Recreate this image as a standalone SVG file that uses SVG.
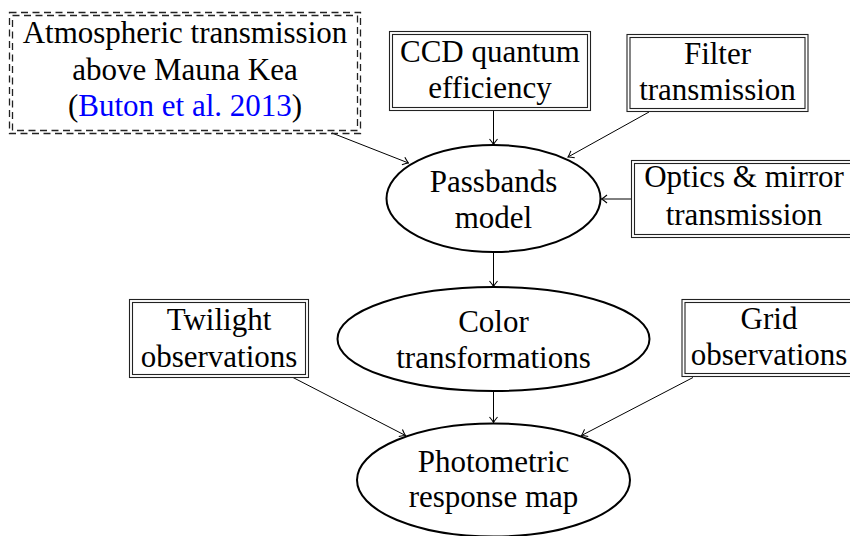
<svg xmlns="http://www.w3.org/2000/svg" width="850" height="536" viewBox="0 0 850 536">
<defs>
<style>
text{font-family:'Liberation Serif','Times New Roman',serif;font-size:31px;fill:#000;text-anchor:middle}
.cite{fill:#0000ff}
.box{fill:none;stroke:#222;stroke-width:1.1}
.dash{fill:none;stroke:#222;stroke-width:1.3;stroke-dasharray:7 4.5}
.ell{fill:#fff;stroke:#000;stroke-width:2}
.edge{fill:none;stroke:#000;stroke-width:1}
</style>
<marker id="arr" viewBox="-7 -5 8 10" refX="0" refY="0" markerWidth="8" markerHeight="10" markerUnits="userSpaceOnUse" orient="auto">
<path d="M -5.5,-4 Q -2,-1 0,0 Q -2,1 -5.5,4" fill="none" stroke="#000" stroke-width="1.1"/>
</marker>
</defs>
<rect width="850" height="536" fill="#fff"/>
<g id="connectors">
<line class="edge" x1="332" y1="133" x2="408.5" y2="163" marker-end="url(#arr)"/>
<line class="edge" x1="493.5" y1="111" x2="493.5" y2="144.5" marker-end="url(#arr)"/>
<line class="edge" x1="649" y1="112" x2="568" y2="157" marker-end="url(#arr)"/>
<line class="edge" x1="631" y1="199" x2="601.5" y2="199" marker-end="url(#arr)"/>
<line class="edge" x1="493.5" y1="252" x2="493.5" y2="286.5" marker-end="url(#arr)"/>
<line class="edge" x1="293" y1="377.5" x2="405.5" y2="435.5" marker-end="url(#arr)"/>
<line class="edge" x1="493.5" y1="391" x2="493.5" y2="422.5" marker-end="url(#arr)"/>
<line class="edge" x1="693" y1="377.5" x2="581.5" y2="435.5" marker-end="url(#arr)"/>
</g>
<g id="atmosphere">
<rect class="dash" x="9.5" y="12.5" width="351" height="121"/>
<rect class="dash" x="12.5" y="15.5" width="345" height="115"/>
<text x="185" y="43">Atmospheric transmission</text>
<text x="185" y="80">above Mauna Kea</text>
<text x="185" y="116">(<tspan class="cite">Buton et al. 2013</tspan>)</text>
</g>
<g id="ccd">
<rect class="box" x="389.5" y="31.5" width="201" height="79"/>
<rect class="box" x="392.5" y="34.5" width="195" height="73"/>
<text x="490" y="62">CCD quantum</text>
<text x="490" y="97.5">efficiency</text>
</g>
<g id="filter">
<rect class="box" x="627" y="34.5" width="181" height="77"/>
<rect class="box" x="630" y="37.5" width="175" height="71"/>
<text x="717.5" y="63.5">Filter</text>
<text x="717.5" y="100">transmission</text>
</g>
<g id="optics">
<rect class="box" x="631.5" y="160.5" width="225" height="77"/>
<rect class="box" x="634.5" y="163.5" width="219" height="71"/>
<text x="744" y="187">Optics &amp; mirror</text>
<text x="744" y="224.5">transmission</text>
</g>
<g id="passbands">
<ellipse class="ell" cx="493.5" cy="198.5" rx="107" ry="53.5"/>
<text x="493.5" y="191.5">Passbands</text>
<text x="493.5" y="227.5">model</text>
</g>
<g id="color">
<ellipse class="ell" cx="493.5" cy="339" rx="156" ry="52"/>
<text x="493.5" y="332">Color</text>
<text x="493.5" y="368">transformations</text>
</g>
<g id="twilight">
<rect class="box" x="129.5" y="299.5" width="179" height="78"/>
<rect class="box" x="132.5" y="302.5" width="173" height="72"/>
<text x="219" y="330">Twilight</text>
<text x="219" y="367">observations</text>
</g>
<g id="grid">
<rect class="box" x="682" y="299.5" width="180" height="77"/>
<rect class="box" x="685" y="302.5" width="174" height="71"/>
<text x="769" y="328.5">Grid</text>
<text x="769" y="365">observations</text>
</g>
<g id="photometric">
<ellipse class="ell" cx="493.5" cy="480" rx="136.5" ry="56.5"/>
<text x="493.5" y="471.5">Photometric</text>
<text x="493.5" y="507">response map</text>
</g>
</svg>
